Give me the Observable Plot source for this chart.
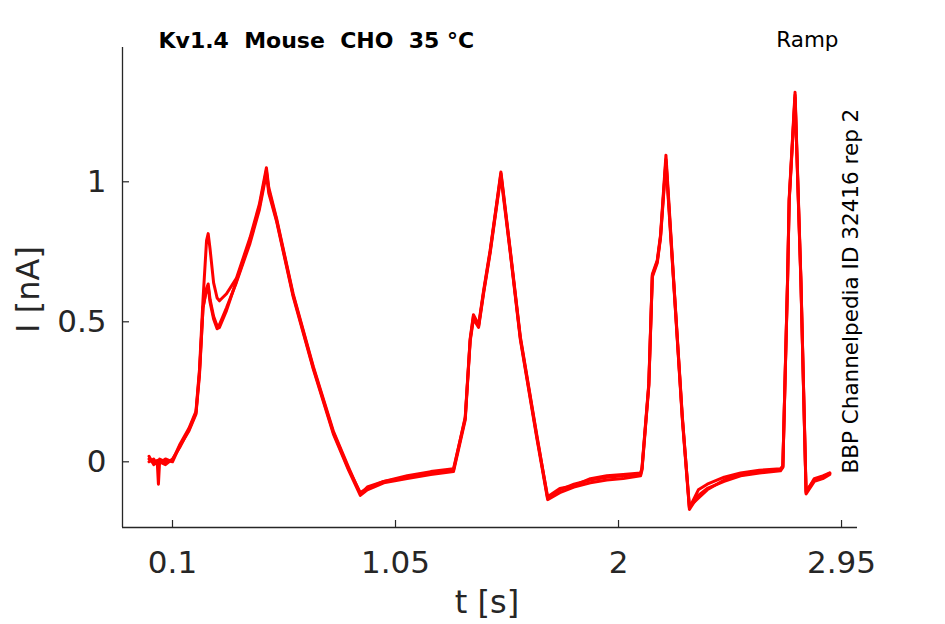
<!DOCTYPE html>
<html><head><meta charset="utf-8">
<script src="https://cdn.jsdelivr.net/npm/d3@7"></script>
<script src="https://cdn.jsdelivr.net/npm/@observablehq/plot@0.6"></script>
<style>body{margin:0;background:#fff;} svg{display:block}</style>
</head><body><div id="chart"></div>
<script>
const time = [0.00, 0.02, 0.035, 0.04, 0.045, 0.07, 0.10, 0.13, 0.17, 0.20, 0.215, 0.23, 0.245, 0.252, 0.26, 0.275, 0.29, 0.30, 0.33, 0.372,
  0.43, 0.47, 0.50, 0.51, 0.543, 0.614, 0.70, 0.785, 0.85, 0.90, 0.93, 1.00, 1.10, 1.20, 1.297, 1.347, 1.368, 1.382, 1.404, 1.425,
  1.453, 1.482, 1.499, 1.539, 1.582, 1.653, 1.698, 1.75, 1.81, 1.88, 1.95, 2.02, 2.094, 2.10, 2.129, 2.144, 2.165, 2.179, 2.202, 2.236,
  2.272, 2.302, 2.34, 2.378, 2.45, 2.52, 2.60, 2.69, 2.70, 2.72, 2.727, 2.752, 2.777, 2.799, 2.834, 2.87, 2.90];
const rep1 = [0.01, -0.005, 0.005, 0.0, 0.01, 0.0, 0.005, 0.06, 0.12, 0.18, 0.33, 0.58, 0.79, 0.815, 0.76, 0.64, 0.585, 0.575, 0.60, 0.655,
  0.80, 0.92, 1.05, 0.98, 0.87, 0.60, 0.34, 0.11, -0.02, -0.115, -0.09, -0.07, -0.055, -0.04, -0.03, 0.16, 0.44, 0.525, 0.49, 0.61,
  0.755, 0.93, 1.035, 0.755, 0.445, 0.09, -0.13, -0.10, -0.08, -0.065, -0.055, -0.05, -0.045, -0.02, 0.28, 0.67, 0.72, 0.81, 1.095, 0.635,
  0.16, -0.165, -0.10, -0.08, -0.055, -0.04, -0.03, -0.025, -0.015, 0.65, 0.94, 1.32, 0.65, -0.11, -0.06, -0.05, -0.04];
const rep2 = [0.00, 0.01, -0.01, 0.005, -0.005, 0.01, 0.0, 0.055, 0.11, 0.17, 0.31, 0.55, 0.62, 0.635, 0.58, 0.52, 0.485, 0.49, 0.55, 0.64,
  0.78, 0.90, 1.03, 0.96, 0.86, 0.59, 0.33, 0.10, -0.03, -0.12, -0.10, -0.075, -0.06, -0.045, -0.035, 0.15, 0.43, 0.51, 0.48, 0.60,
  0.745, 0.92, 1.02, 0.745, 0.435, 0.08, -0.135, -0.11, -0.09, -0.075, -0.065, -0.06, -0.05, -0.03, 0.27, 0.66, 0.71, 0.80, 1.07, 0.625,
  0.15, -0.17, -0.12, -0.095, -0.07, -0.05, -0.04, -0.032, -0.02, 0.64, 0.93, 1.30, 0.64, -0.115, -0.07, -0.06, -0.045];
const rep3 = [0.02, -0.01, 0.0, -0.08, 0.0, -0.01, 0.01, 0.05, 0.115, 0.175, 0.32, 0.55, 0.615, 0.625, 0.57, 0.51, 0.475, 0.48, 0.54, 0.645,
  0.79, 0.91, 1.04, 0.97, 0.865, 0.595, 0.335, 0.105, -0.025, -0.11, -0.095, -0.07, -0.05, -0.035, -0.025, 0.155, 0.435, 0.52, 0.485, 0.605,
  0.75, 0.925, 1.03, 0.75, 0.44, 0.085, -0.125, -0.095, -0.085, -0.06, -0.05, -0.045, -0.04, -0.025, 0.275, 0.665, 0.715, 0.805, 1.08, 0.63,
  0.155, -0.16, -0.13, -0.10, -0.065, -0.045, -0.035, -0.028, -0.018, 0.645, 0.935, 1.31, 0.645, -0.105, -0.065, -0.055, -0.04];
const reps = ["rep1", "rep2", "rep3"];
const xTicks = [0.1, 1.05, 2, 2.95];
const xTickLabels = ["0.1", "1.05", "2", "2.95"];
const yTicks = [0, 0.5, 1];
const yTickLabels = ["0", "0.5", "1"];
const xDomain = [-0.113, 3.018];
const yDomain = [-0.2346, 1.4796];
const titleText = "Kv1.4\u00a0\u00a0Mouse\u00a0\u00a0CHO\u00a0\u00a035\u00a0°C";
const protocolText = "Ramp";
const sideText = "BBP Channelpedia ID 32416 rep 2";
const xLabel = "t [s]";
const yLabel = "I [nA]";

const W = 945, H = 624, mL = 122, mR = 88, mT = 47, mB = 97;
const plotW = W - mL - mR, plotH = H - mT - mB;
const series = [rep1, rep2, rep3];
const data = [];
series.forEach((vals, k) => vals.forEach((v, i) => data.push({t: time[i], I: v, rep: reps[k]})));
const axisColor = "#262626";
const font = "DejaVu Sans, sans-serif";

const chart = Plot.plot({
  width: W, height: H,
  marginLeft: mL, marginRight: mR, marginTop: mT, marginBottom: mB,
  style: {fontFamily: font, background: "#fff", overflow: "visible"},
  x: {domain: xDomain},
  y: {domain: yDomain},
  marks: [
    Plot.line(data, {x: "t", y: "I", z: "rep", stroke: "#ff0000", strokeWidth: 3, strokeLinejoin: "round"}),
    Plot.ruleX([xDomain[0]], {stroke: axisColor, strokeWidth: 1.3}),
    Plot.ruleY([yDomain[0]], {stroke: axisColor, strokeWidth: 1.3}),
    Plot.tickX(xTicks, {x: d => d, stroke: axisColor, strokeWidth: 1.2, insetTop: plotH - 7}),
    Plot.tickY(yTicks, {y: d => d, stroke: axisColor, strokeWidth: 1.2, insetRight: plotW - 7}),
    Plot.axisX({ticks: xTicks, tickFormat: (d, i) => xTickLabels[i], tickSize: 0, tickPadding: 23, fontSize: 31, color: axisColor, label: null}),
    Plot.axisY({ticks: yTicks, tickFormat: (d, i) => yTickLabels[i], tickSize: 0, tickPadding: 16, fontSize: 31, color: axisColor, label: null}),
    Plot.text([xLabel], {frameAnchor: "bottom", text: d => d, textAnchor: "middle", lineAnchor: "bottom", dx: -3, dy: 85, fontSize: 32, fill: axisColor}),
    Plot.text([yLabel], {frameAnchor: "left", text: d => d, rotate: -90, textAnchor: "middle", lineAnchor: "bottom", dx: -84, dy: 2, fontSize: 32, fill: axisColor}),
    Plot.text([titleText], {frameAnchor: "top-left", text: d => d, textAnchor: "start", lineAnchor: "bottom", dx: 36, dy: 0, fontSize: 22, fontWeight: "bold", fill: "#000"}),
    Plot.text([protocolText], {frameAnchor: "top-right", text: d => d, textAnchor: "end", lineAnchor: "bottom", dx: -19, dy: -1, fontSize: 21.5, fill: "#000"}),
    Plot.text([sideText], {frameAnchor: "right", text: d => d, rotate: -90, textAnchor: "start", lineAnchor: "bottom", dx: 0, dy: 186, fontSize: 21.5, fill: "#000"})
  ]
});
document.getElementById("chart").appendChild(chart);
</script>
</body></html>
